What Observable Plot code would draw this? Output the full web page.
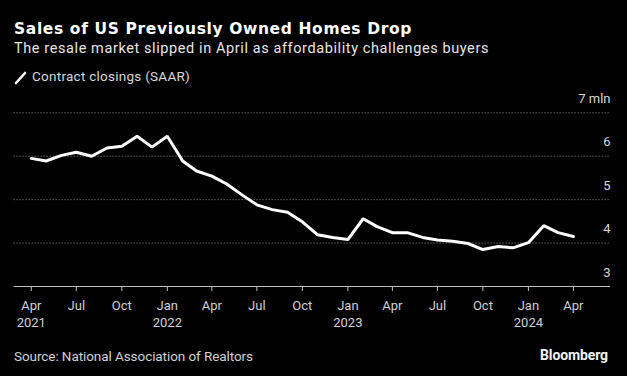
<!DOCTYPE html>
<html>
<head>
<meta charset="utf-8">
<script src="https://cdn.jsdelivr.net/npm/d3@7"></script>
<script src="https://cdn.jsdelivr.net/npm/@observablehq/plot@0.6"></script>
<style>
  html, body { margin: 0; padding: 0; background: #000; }
  #page { position: relative; width: 627px; height: 376px; background: #000; overflow: hidden; }
  .t { position: absolute; white-space: nowrap; line-height: 1; }
  #title { left: 14px; top: 21.5px; font-family: "DejaVu Sans", sans-serif; font-weight: bold; font-size: 15.5px; color: #fff; }
  #subtitle { left: 14px; top: 41.6px; font-family: Roboto, sans-serif; font-size: 14.5px; color: #e6e6e6; }
  #legend { left: 32px; top: 70.3px; font-family: Roboto, sans-serif; font-size: 13.5px; color: #d8d8d8; }
  #swatch { position: absolute; left: 14px; top: 70px; }
  #source { left: 14px; top: 349.5px; font-family: Roboto, sans-serif; font-size: 13.5px; color: #d0d0d0; }
  #brand { left: 540px; top: 347.5px; font-family: Roboto, sans-serif; font-weight: bold; font-size: 14px; color: #f2f2f2; }
  #chart { position: absolute; left: 0; top: 0; }
</style>
</head>
<body>
<div id="page">
  <div id="chart"></div>
  <div class="t" id="title" data-w="398">Sales of US Previously Owned Homes Drop</div>
  <div class="t" id="subtitle" data-w="475">The resale market slipped in April as affordability challenges buyers</div>
  <svg id="swatch" width="14" height="16"><line x1="2" y1="13" x2="11" y2="3" stroke="#fff" stroke-width="2.6" stroke-linecap="round"/></svg>
  <div class="t" id="legend" data-w="158">Contract closings (SAAR)</div>
  <div class="t" id="source" data-w="239">Source: National Association of Realtors</div>
  <div class="t" id="brand" data-w="68">Bloomberg</div>
</div>
<script>
// ---- Data ----
const months = [
  "2021-04","2021-05","2021-06","2021-07","2021-08","2021-09","2021-10","2021-11","2021-12",
  "2022-01","2022-02","2022-03","2022-04","2022-05","2022-06","2022-07","2022-08","2022-09","2022-10","2022-11","2022-12",
  "2023-01","2023-02","2023-03","2023-04","2023-05","2023-06","2023-07","2023-08","2023-09","2023-10","2023-11","2023-12",
  "2024-01","2024-02","2024-03","2024-04"
];
const closings = [
  5.95, 5.89, 6.02, 6.09, 6.00, 6.19, 6.23, 6.46, 6.21,
  6.46, 5.89, 5.66, 5.54, 5.36, 5.11, 4.88, 4.77, 4.71, 4.49, 4.19, 4.13,
  4.08, 4.56, 4.38, 4.24, 4.24, 4.13, 4.07, 4.04, 3.99, 3.85, 3.92, 3.89,
  4.01, 4.40, 4.24, 4.15
];
const xTickDates = ["2021-04","2021-07","2021-10","2022-01","2022-04","2022-07","2022-10","2023-01","2023-04","2023-07","2023-10","2024-01","2024-04"];
const xTickLabels = ["Apr","Jul","Oct","Jan","Apr","Jul","Oct","Jan","Apr","Jul","Oct","Jan","Apr"];
const yearDates = ["2021-04","2022-01","2023-01","2024-01"];
const yearLabels = ["2021","2022","2023","2024"];
const yTicks = [3, 4, 5, 6, 7];
const yTickLabels = ["3", "4", "5", "6", "7 mln"];
const gridValues = [4, 5, 6, 7];

const parse = s => new Date(s + "-01T00:00:00Z");
const series = months.map((m, i) => ({date: parse(m), value: closings[i]}));

const chart = Plot.plot({
  width: 627,
  height: 376,
  marginTop: 112.3,
  marginBottom: 90,
  marginLeft: 13.5,
  marginRight: 17,
  x: {type: "utc", domain: [new Date("2021-02-25T00:00:00Z"), new Date("2024-06-15T00:00:00Z")], axis: null},
  y: {domain: [3, 7], axis: null},
  style: {background: "transparent", color: "#d0d0d0", fontFamily: "Roboto, sans-serif", fontSize: "13px"},
  marks: [
    Plot.ruleY(gridValues, {y: d => d, stroke: "#767676", strokeWidth: 1, strokeDasharray: "1.2,1.8"}),
    Plot.ruleY([3], {y: d => d, stroke: "#bdbdbd", strokeWidth: 1.2}),
    Plot.ruleX(xTickDates, {x: d => parse(d), y1: 3, y2: 3, insetTop: 0, insetBottom: -5, stroke: "#bdbdbd", strokeWidth: 1}),
    Plot.line(series, {x: "date", y: "value", stroke: "#ffffff", strokeWidth: 3, strokeLinejoin: "miter"}),
    Plot.text(yTicks, {y: d => d, text: (d, i) => yTickLabels[i], frameAnchor: "right", textAnchor: "end", dy: -14, fill: "#d8d8d8", fontSize: 13}),
    Plot.text(xTickDates, {x: d => parse(d), text: (d, i) => xTickLabels[i], frameAnchor: "bottom", dy: 19.7, lineAnchor: "middle", fill: "#d0d0d0", fontSize: 13}),
    Plot.text(yearDates, {x: d => parse(d), text: (d, i) => yearLabels[i], frameAnchor: "bottom", dy: 36.7, lineAnchor: "middle", fill: "#d0d0d0", fontSize: 13})
  ]
});
document.getElementById("chart").appendChild(chart);

// fit text widths via letter-spacing
document.querySelectorAll(".t[data-w]").forEach(el => {
  const target = +el.dataset.w;
  const w = el.getBoundingClientRect().width;
  const n = el.textContent.length;
  el.style.letterSpacing = ((target - w) / n) + "px";
});
</script>
</body>
</html>
